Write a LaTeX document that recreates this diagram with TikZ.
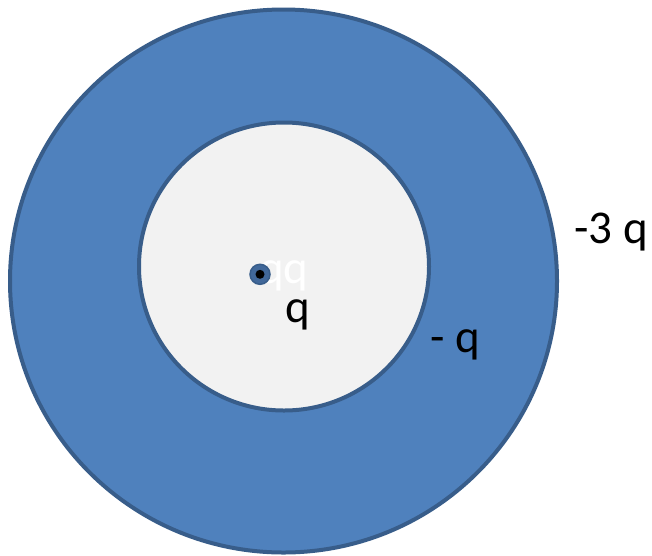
\documentclass[tikz,border=0pt]{standalone}
\usepackage{fontspec}
\setmainfont{Carlito}
\definecolor{ringblue}{HTML}{4F81BD}
\definecolor{ringedge}{HTML}{385D8A}
\definecolor{dotblue}{HTML}{41689A}
\definecolor{holegray}{HTML}{F2F2F2}
\begin{document}
\begin{tikzpicture}[x=1pt,y=-1pt,
  lbl/.style={anchor=base west,inner sep=0pt,font=\fontsize{47}{51}\selectfont},
  shell/.style={draw=ringedge,line width=4pt}]
\useasboundingbox (0,0) rectangle (652,555);
\fill[white] (0,0) rectangle (652,555);
\draw[shell,fill=ringblue] (283.5,281) ellipse [x radius=273.5,y radius=271.5];
\draw[shell,fill=holegray] (284,266.5) ellipse [x radius=145,y radius=144];
\node[lbl,text=white] (qq) at (259,283) {qq};
\draw[draw=ringedge,fill=dotblue,line width=1.5pt] (260,274.3) circle [radius=10];
\fill[black] (260,274.3) circle [radius=4.5];
\node[lbl] (qin) at (285,322) {q};
\node[lbl] (qmid) at (430,352) {- q};
\node[lbl] (qout) at (574,243) {-3 q};
\end{tikzpicture}
\end{document}
